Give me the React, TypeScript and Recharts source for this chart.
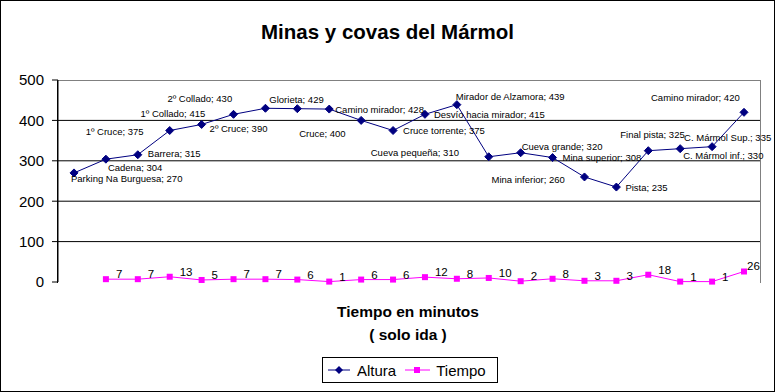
import { Line, LineChart, ReferenceLine, XAxis, YAxis } from "recharts";

const stops = [
  "Parking Na Burguesa",
  "Cadena",
  "Barrera",
  "1º Cruce",
  "2º Cruce",
  "1º Collado",
  "2º Collado",
  "Glorieta",
  "Camino mirador",
  "Cruce",
  "Cruce torrente",
  "Desvío hacia mirador",
  "Mirador de Alzamora",
  "Cueva pequeña",
  "Cueva grande",
  "Mina superior",
  "Mina inferior",
  "Pista",
  "Final pista",
  "C. Mármol inf.",
  "C. Mármol Sup.",
  "Camino mirador",
];

const altura = [
  270, 304, 315, 375, 390, 415, 430, 429, 428, 400, 375, 415, 439, 310, 320,
  308, 260, 235, 325, 330, 335, 420,
];

// minutes from the previous stop (none for the start)
const tiempo = [
  null, 7, 7, 13, 5, 7, 7, 6, 1, 6, 6, 12, 8, 10, 2, 8, 3, 3, 18, 1, 1, 26,
];

const yTicks = [0, 100, 200, 300, 400, 500];
const gridValues = [100, 200, 300, 400];

// where each altitude label sits relative to its point (text start, text middle)
const altLabelOffset: [number, number][] = [
  [-3, 6], [2, 8], [10, -1], [-84, 1], [8, 4], [-93, -1], [-98, -10],
  [-28, -9], [6, 0], [-62, 13], [10, 0], [9, 0], [-1, -8], [-118, -4],
  [1, -6], [10, 0], [-93, 3], [9, 0], [-28, -16], [3, 7], [-28, -9],
  [-93, -15],
];

const data = stops.map((name, i) => ({
  name,
  altura: altura[i],
  tiempo: tiempo[i],
}));

const FONT = "'Liberation Sans', Arial, sans-serif";
const NAVY = "#000080";
const PINK = "#ff00ff";

const Diamond = (props: any) => {
  const { cx, cy, index } = props;
  if (cx == null || cy == null) return <g key={index} />;
  return (
    <polygon
      key={index}
      points={`${cx},${cy - 4} ${cx + 4},${cy} ${cx},${cy + 4} ${cx - 4},${cy}`}
      fill={NAVY}
      stroke={NAVY}
    />
  );
};

const Square = (props: any) => {
  const { cx, cy, index } = props;
  if (cx == null || cy == null) return <g key={index} />;
  return <rect key={index} x={cx - 3} y={cy - 3} width={6} height={6} fill={PINK} />;
};

const AltLabel = (props: any) => {
  const { x, y, index } = props;
  const [dx, dy] = altLabelOffset[index] ?? [6, 0];
  return (
    <text
      key={index}
      x={x + dx}
      y={y + dy}
      dominantBaseline="central"
      fontSize={9.5}
      fontFamily={FONT}
      fill="#000"
    >
      {`${stops[index]}; ${altura[index]}`}
    </text>
  );
};

const TimeLabel = (props: any) => {
  const { x, y, value, index } = props;
  if (value == null || x == null) return <g key={index} />;
  const last = index === stops.length - 1;
  return (
    <text
      key={index}
      x={x + (last ? 3 : 10)}
      y={y - 5}
      dominantBaseline="central"
      fontSize={11.5}
      fontFamily={FONT}
      fill="#000"
    >
      {value}
    </text>
  );
};

const LegendBox = () => (
  <div
    style={{
      position: "absolute",
      left: 322,
      top: 357,
      width: 174,
      height: 24,
      border: "1px solid #000",
      fontFamily: FONT,
      fontSize: 15,
      display: "flex",
      alignItems: "center",
      background: "#fff",
    }}
  >
    <svg width={34} height={20}>
      <line x1={5} y1={10} x2={27} y2={10} stroke={NAVY} />
      <polygon points="16,6 20,10 16,14 12,10" fill={NAVY} />
    </svg>
    <span style={{ marginRight: 6 }}>Altura</span>
    <svg width={34} height={20}>
      <line x1={3} y1={10} x2={28} y2={10} stroke={PINK} />
      <rect x={12} y={7} width={6} height={6} fill={PINK} />
    </svg>
    <span>Tiempo</span>
  </div>
);

export default function App() {
  return (
    <div
      style={{
        position: "absolute",
        left: 0,
        top: 0,
        width: 775,
        height: 392,
        background: "#fff",
        fontFamily: FONT,
      }}
    >
      <div
        style={{
          position: "absolute",
          left: 0,
          top: 0,
          width: 773,
          height: 390,
          border: "1px solid #000",
        }}
      />
      <div
        style={{
          position: "absolute",
          left: 0,
          width: 775,
          top: 20,
          textAlign: "center",
          fontSize: 20.5,
          fontWeight: "bold",
        }}
      >
        Minas y covas del Mármol
      </div>
      <div
        style={{
          position: "absolute",
          left: 258,
          width: 300,
          top: 300,
          textAlign: "center",
          fontSize: 15.5,
          fontWeight: "bold",
          lineHeight: "23px",
        }}
      >
        Tiempo en minutos
        <br />( solo ida )
      </div>
      <div
        style={{
          position: "absolute",
          left: 57,
          top: 80,
          width: 702,
          height: 202,
          borderTop: "1px solid #808080",
          borderRight: "1px solid #808080",
          borderLeft: "1px solid #000",
        }}
      />
      <LineChart
        width={775}
        height={392}
        data={data}
        margin={{ top: 80, right: 15, bottom: 110, left: 0 }}
        style={{ position: "absolute", left: 0, top: 0 }}
      >
        <XAxis
          dataKey="name"
          tick={false}
          tickLine={false}
          axisLine={{ stroke: "#808080" }}
          padding={{ left: 16, right: 16 }}
          height={0}
        />
        <YAxis
          width={58}
          domain={[0, 500]}
          ticks={yTicks}
          tickSize={6}
          tickMargin={8}
          axisLine={{ stroke: "#000" }}
          tickLine={{ stroke: "#000" }}
          tick={{ fill: "#000", fontSize: 15, fontFamily: FONT }}
        />
        {gridValues.map((v) => (
          <ReferenceLine key={v} y={v} stroke="#000" />
        ))}
        <Line
          dataKey="altura"
          stroke={NAVY}
          strokeWidth={1}
          dot={Diamond}
          label={AltLabel}
          isAnimationActive={false}
        />
        <Line
          dataKey="tiempo"
          stroke={PINK}
          strokeWidth={1}
          dot={Square}
          label={TimeLabel}
          isAnimationActive={false}
        />
      </LineChart>
      <LegendBox />
    </div>
  );
}
